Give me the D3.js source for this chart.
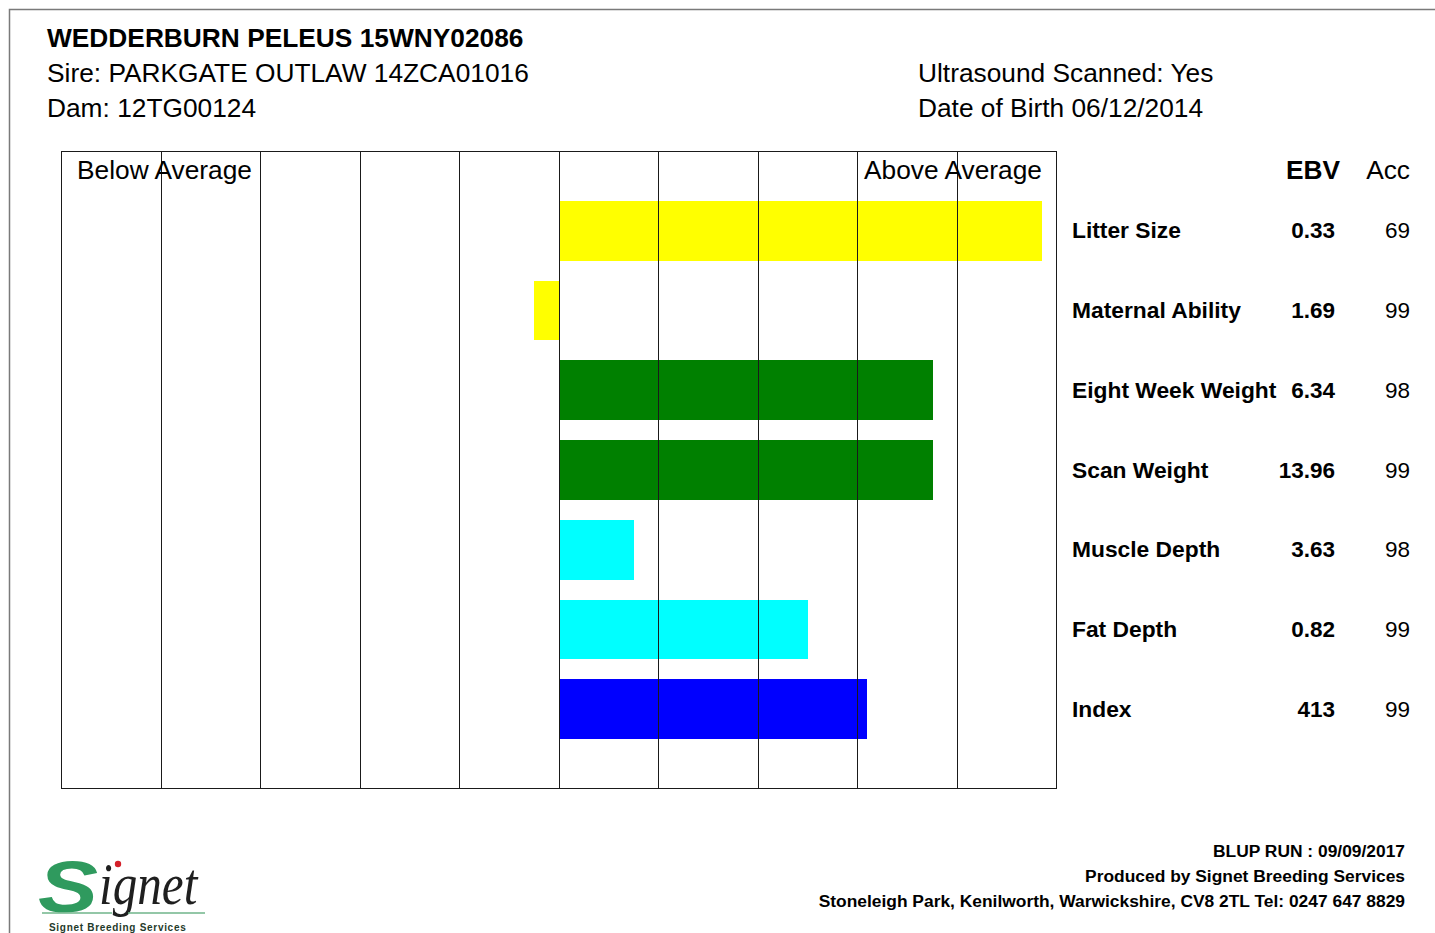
<!DOCTYPE html>
<html>
<head>
<meta charset="utf-8">
<script src="https://cdn.jsdelivr.net/npm/d3@7"></script>
<style>
  body { margin: 0; background: #fff; }
  svg { display: block; font-family: "Liberation Sans", Arial, Helvetica, sans-serif; }
</style>
</head>
<body>
<svg id="sheet" width="1435" height="933"></svg>
<script>
// Trait data
const traits = ["Litter Size", "Maternal Ability", "Eight Week Weight", "Scan Weight", "Muscle Depth", "Fat Depth", "Index"]
const ebvs = ["0.33", "1.69", "6.34", "13.96", "3.63", "0.82", "413"]
const accs = [69, 99, 98, 99, 98, 99, 99]
// bar length in grid units (one column = one unit, 0 = breed average)
const barValues = [4.85, -0.25, 3.76, 3.76, 0.75, 2.5, 3.1]
const barColors = ["#ffff00", "#ffff00", "#008000", "#008000", "#00ffff", "#00ffff", "#0000ff"]
const gridTicks = d3.range(-5, 6)

const headerLeft = ["Sire: PARKGATE OUTLAW 14ZCA01016", "Dam: 12TG00124"]
const headerRight = ["Ultrasound Scanned: Yes", "Date of Birth 06/12/2014"]
const footerLines = ["BLUP RUN : 09/09/2017", "Produced by Signet Breeding Services",
  "Stoneleigh Park, Kenilworth, Warwickshire, CV8 2TL Tel: 0247 647 8829"]

const svg = d3.select("#sheet")

// page frame (runs off the right and bottom edges)
svg.append("path")
  .attr("d", "M9.5,940 V9.5 H1440")
  .attr("fill", "none")
  .attr("stroke", "#7a7a7a")
  .attr("stroke-width", 1.5)

// header
svg.append("text")
  .attr("x", 47).attr("y", 47)
  .attr("font-size", 26.3).attr("font-weight", "bold")
  .text("WEDDERBURN PELEUS 15WNY02086")

svg.selectAll(".hl").data(headerLeft).enter().append("text")
  .attr("class", "hl")
  .attr("x", 47).attr("y", (d, i) => 82 + i * 35)
  .attr("font-size", 26.3)
  .text(d => d)

svg.selectAll(".hr").data(headerRight).enter().append("text")
  .attr("class", "hr")
  .attr("x", 918).attr("y", (d, i) => 82 + i * 35)
  .attr("font-size", 26.3)
  .text(d => d)

// chart scales
const x = d3.scaleLinear().domain([-5, 5]).range([61.5, 1056.5])
const y = d3.scaleBand().domain(traits).range([191, 749]).paddingInner(0.25).paddingOuter(0.125)
const gridTop = 151, gridBottom = 788

const chart = svg.append("g")

// bars first, grid drawn over them
chart.selectAll(".bar").data(traits).enter().append("rect")
  .attr("class", "bar")
  .attr("x", (d, i) => x(Math.min(0, barValues[i])))
  .attr("width", (d, i) => Math.abs(x(barValues[i]) - x(0)))
  .attr("y", d => y(d))
  .attr("height", y.bandwidth())
  .attr("fill", (d, i) => barColors[i])
  .attr("shape-rendering", "crispEdges")

chart.selectAll(".grid").data(gridTicks).enter().append("line")
  .attr("class", "grid")
  .attr("x1", d => Math.floor(x(d)) + 0.5).attr("x2", d => Math.floor(x(d)) + 0.5)
  .attr("y1", gridTop).attr("y2", gridBottom)
  .attr("stroke", "#1a1a1a").attr("stroke-width", 1)

chart.append("line")
  .attr("x1", Math.floor(x(-5))).attr("x2", Math.floor(x(5)) + 1)
  .attr("y1", gridTop + 0.5).attr("y2", gridTop + 0.5)
  .attr("stroke", "#1a1a1a")
chart.append("line")
  .attr("x1", Math.floor(x(-5))).attr("x2", Math.floor(x(5)) + 1)
  .attr("y1", gridBottom + 0.5).attr("y2", gridBottom + 0.5)
  .attr("stroke", "#1a1a1a")

chart.append("text").attr("x", 77).attr("y", 179).attr("font-size", 26.3).text("Below Average")
chart.append("text").attr("x", 864).attr("y", 179).attr("font-size", 26.3).text("Above Average")

// table on the right
const table = svg.append("g")
table.append("text").attr("x", 1340).attr("y", 179).attr("text-anchor", "end")
  .attr("font-size", 26.3).attr("font-weight", "bold").text("EBV")
table.append("text").attr("x", 1410).attr("y", 179).attr("text-anchor", "end")
  .attr("font-size", 26.3).text("Acc")

const rows = table.selectAll(".row").data(traits).enter().append("g")
  .attr("class", "row")
  .attr("transform", d => `translate(0,${y(d) + y.bandwidth() / 2 + 7.5})`)

rows.append("text").attr("x", 1072)
  .attr("font-size", 22.8).attr("font-weight", "bold").text(d => d)
rows.append("text").attr("x", 1335).attr("text-anchor", "end")
  .attr("font-size", 22.5).attr("font-weight", "bold").text((d, i) => ebvs[i])
rows.append("text").attr("x", 1410).attr("text-anchor", "end")
  .attr("font-size", 22.5).text((d, i) => accs[i])

// footer
svg.selectAll(".foot").data(footerLines).enter().append("text")
  .attr("class", "foot")
  .attr("x", 1405).attr("y", (d, i) => 857 + i * 25)
  .attr("text-anchor", "end")
  .attr("font-size", 17.4).attr("font-weight", "bold")
  .text(d => d)

// Signet logo
const logo = svg.append("g")
logo.append("text")
  .attr("transform", "translate(38,912) scale(1.25,1)")
  .attr("font-size", 72).attr("font-weight", "bold").attr("font-style", "italic")
  .attr("fill", "#2f9a5e")
  .text("S")
logo.append("text")
  .attr("transform", "translate(99,904) scale(0.82,1)")
  .attr("font-family", "'Liberation Serif', 'DejaVu Serif', serif")
  .attr("font-size", 60).attr("font-style", "italic")
  .attr("fill", "#1f1f1f")
  .text("ignet")
logo.append("circle").attr("cx", 118).attr("cy", 864).attr("r", 3.2).attr("fill", "#d4202a")
logo.append("line").attr("x1", 42).attr("x2", 112).attr("y1", 913).attr("y2", 913)
  .attr("stroke", "#6fb58a").attr("stroke-width", 1.5)
logo.append("line").attr("x1", 128).attr("x2", 205).attr("y1", 913).attr("y2", 913)
  .attr("stroke", "#6fb58a").attr("stroke-width", 1.5)
logo.append("text")
  .attr("x", 49).attr("y", 931)
  .attr("font-size", 10).attr("font-weight", "bold").attr("letter-spacing", 0.7)
  .attr("fill", "#1f3a2a")
  .text("Signet Breeding Services")
</script>
</body>
</html>
